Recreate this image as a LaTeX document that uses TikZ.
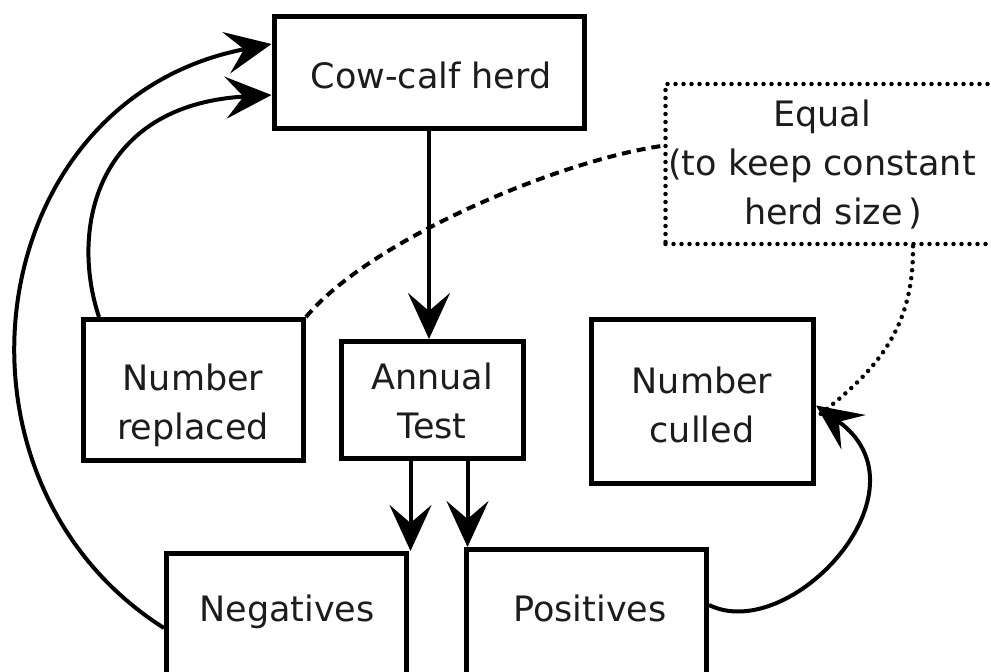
\documentclass[tikz,border=0pt]{standalone}
\usepackage{fontspec}
\setmainfont{DejaVu Sans}
\usetikzlibrary{arrows.meta}
\definecolor{ink}{HTML}{1C1C1C}
\begin{document}
\begin{tikzpicture}[x=1pt,y=-1pt,
  box/.style={draw=black, line width=5pt, inner sep=0pt},
  lbl/.style={font=\fontsize{35}{49}\selectfont, align=center, text=ink, inner sep=0pt},
  conn/.style={line width=4pt, -{Stealth[length=46pt,width=42pt,inset=18pt]}},
  dashlink/.style={line width=4pt, dash pattern=on 9pt off 6pt},
  dotlink/.style={line width=4.5pt, line cap=round, dash pattern=on 0pt off 8pt}]
\useasboundingbox (0,0) rectangle (991,672);

% boxes
\node[box, minimum width=310pt, minimum height=112pt] (cow) at (429,72) {};
\node[dotlink, draw, inner sep=0pt, minimum width=345pt, minimum height=160pt] (eqbox) at (838,164) {};
\node[box, minimum width=220pt, minimum height=141pt] (rep) at (193.5,390) {};
\node[box, minimum width=182pt, minimum height=117pt] (test) at (432.5,400) {};
\node[box, minimum width=222pt, minimum height=164pt] (cull) at (702.5,401.5) {};
\node[box, minimum width=240pt, minimum height=150pt, anchor=north] (neg) at (286.5,551) {};
\node[box, minimum width=240pt, minimum height=150pt, anchor=north] (pos) at (586.5,547) {};

% labels
\node[lbl] (tcow) at (431,75) {Cow-calf herd};
\node[lbl] (teq) at (822,165) {Equal\\(to keep constant\\\ \ herd size\,)};
\node[lbl] (trep) at (193,405) {Number\\replaced};
\node[lbl] (ttest) at (432,401) {Annual\\Test};
\node[lbl] (tcull) at (702,405) {Number\\culled};
\node[lbl] (tneg) at (287,612) {Negatives};
\node[lbl] (tpos) at (590,608) {Positives};

% flow connectors
\draw[conn] (cow.south) -- (cow.south |- test.north);
\draw[conn] ([xshift=-22pt]test.south) -- ([xshift=-22pt]test.south |- neg.north);
\draw[conn] ([xshift=35pt]test.south) -- ([xshift=35pt]test.south |- pos.north);
\draw[conn] ([xshift=18pt]rep.north west) .. controls (70,230) and (95,105) .. ([yshift=-23pt]cow.west);
\draw[conn] ([yshift=-77pt]neg.north west) .. controls (-70,480) and (-20,100) .. ([yshift=28pt]cow.west);
\draw[conn] ([yshift=-58pt]pos.north east) .. controls (790,645) and (935,490) .. ([yshift=-4pt]cull.east);

% links to the herd-size note
\draw[dashlink] (rep.north east) .. controls (370,240) and (560,160) .. ([yshift=-64pt]eqbox.north west);
\draw[dotlink] ([xshift=75pt]eqbox.south) .. controls (914,330) and (875,372) .. ([yshift=-16pt]cull.east);
\end{tikzpicture}
\end{document}
